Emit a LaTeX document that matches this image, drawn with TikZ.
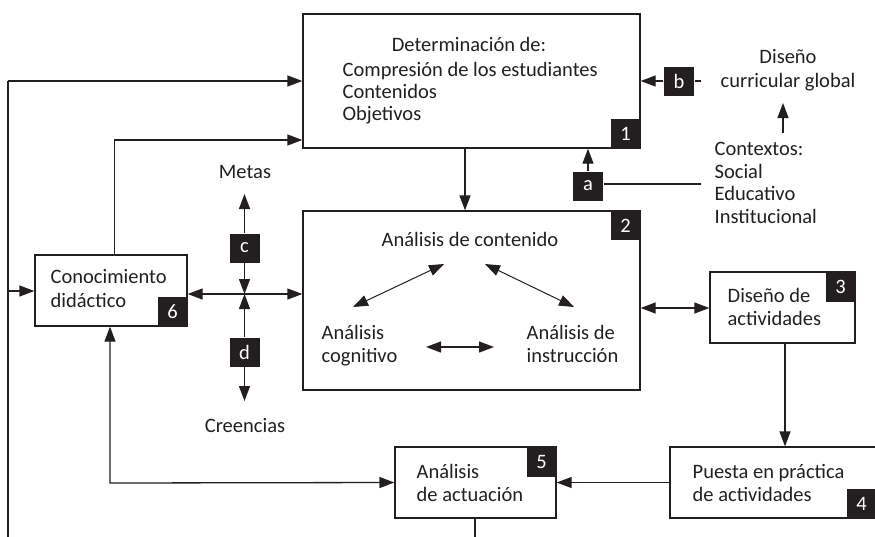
\documentclass[tikz,border=0pt]{standalone}
\usepackage{fontspec}
\setmainfont{Carlito}
\usetikzlibrary{arrows.meta}
\begin{document}
\begin{tikzpicture}[x=1pt,y=-1pt,
  line width=1.3pt, draw={rgb,255:red,35;green,31;blue,32},
  tip/.style={-{Triangle[length=15pt,width=11pt]}},
  dtip/.style={{Triangle[length=15pt,width=11pt]}-{Triangle[length=15pt,width=11pt]}},
  box/.style={draw, rectangle, inner sep=0pt},
  tag/.style={fill={rgb,255:red,35;green,31;blue,32}, text=white, minimum width=29pt, minimum height=29pt, inner sep=0pt, font=\fontsize{20.5}{20.5}\selectfont},
  txt/.style={inner sep=0pt, anchor=base west, text={rgb,255:red,35;green,31;blue,32}, font=\fontsize{20.5}{23}\selectfont},
  ctxt/.style={inner sep=0pt, anchor=base, text={rgb,255:red,35;green,31;blue,32}, font=\fontsize{20.5}{23}\selectfont}]
\useasboundingbox (0,0) rectangle (875,536);
% boxes
\node[box, minimum width=337pt, minimum height=134pt] (b1) at (471.5,81) {};
\node[box, minimum width=337pt, minimum height=179pt] (b2) at (471.5,300.5) {};
\node[box, minimum width=152pt, minimum height=71pt] (b6) at (111,290.5) {};
\node[box, minimum width=145pt, minimum height=71pt] (b3) at (782.5,307.5) {};
\node[box, minimum width=207pt, minimum height=71pt] (b4) at (773.5,482.5) {};
\node[box, minimum width=161pt, minimum height=71pt] (b5) at (475.5,482.5) {};
% texts
\node[ctxt] (t1a) at (469,51) {Determinación de:};
\node[txt] (t1b) at (342,76) {Compresión de los estudiantes};
\node[txt] (t1c) at (342,98) {Contenidos};
\node[txt] (t1d) at (342,120) {Objetivos};
\node[ctxt] (t2a) at (470,246) {Análisis de contenido};
\node[txt] (t2b1) at (321,339) {Análisis};
\node[txt] (t2b2) at (321,362) {cognitivo};
\node[txt] (t2c1) at (526,339) {Análisis de};
\node[txt] (t2c2) at (526,362) {instrucción};
\node[txt] (t6a) at (50,283) {Conocimiento};
\node[txt] (t6b) at (50,307) {didáctico};
\node[txt] (t3a) at (727,302) {Diseño de};
\node[txt] (t3b) at (727,325) {actividades};
\node[txt] (t4a) at (692,478) {Puesta en práctica};
\node[txt] (t4b) at (692,501) {de actividades};
\node[txt] (t5a) at (416,478) {Análisis};
\node[txt] (t5b) at (416,501) {de actuación};
\node[ctxt] (dis1) at (788,63) {Diseño};
\node[ctxt] (dis2) at (788,87) {curricular global};
\node[txt] (ctx1) at (714,155) {Contextos:};
\node[txt] (ctx2) at (714,178) {Social};
\node[txt] (ctx3) at (714,200) {Educativo};
\node[txt] (ctx4) at (714,223) {Institucional};
\node[ctxt] (metas) at (245,178) {Metas};
\node[ctxt] (cree) at (245,432) {Creencias};
% tags
\node[tag] (n1) at (625.5,133.5) {1};
\node[tag] (n2) at (625.5,225.5) {2};
\node[tag] (n3) at (840.5,287) {3};
\node[tag] (n4) at (861.5,503.5) {4};
\node[tag] (n5) at (541.5,462) {5};
\node[tag] (n6) at (172.5,311.5) {6};
\node[tag, minimum width=30pt] (na) at (588,186) {a};
\node[tag, minimum width=30pt] (nb) at (679,81) {b};
\node[tag, minimum width=30pt] (nc) at (244.5,248) {c};
\node[tag, minimum width=30pt] (nd) at (244.5,352) {d};
% coordinates
\coordinate (cross) at (244.5,294);
\coordinate (mtop) at (244.5,194);
\coordinate (cbot) at (244.5,401);
\coordinate (bend) at (701,81);
\coordinate (aend) at (701,184);
\coordinate (ctop) at (783,133);
\coordinate (ctip) at (783,103);
\coordinate (left) at (8,81);
\coordinate (leftb) at (8,540);
\coordinate (l6) at (8,291);
\coordinate (up6) at (114.5,140);
\coordinate (c65) at (110,483);
\coordinate (b5d) at (475,540);
\coordinate (ia1) at (353,307);
\coordinate (ia2) at (444,264);
\coordinate (ib1) at (485,264);
\coordinate (ib2) at (574,307);
\coordinate (ic1) at (426,347);
\coordinate (ic2) at (494,347);
% connectors
\draw[tip] (b1.south -| 465,0) -- (b2.north -| 465,0);
\draw[tip] (na.north) -- (na.north |- b1.south);
\draw (na.east |- aend) -- (aend);
\draw[tip] (nb.west) -- (nb.west -| b1.east);
\draw (nb.east) -- (bend);
\draw[tip] (ctop) -- (ctip);
\draw[tip] (left) -- (left -| b1.west);
\draw (left) -- (leftb);
\draw[tip] (l6) -- (l6 -| b6.west);
\draw[tip] (b6.north -| up6) -- (up6) -- (up6 -| b1.west);
\draw[tip] (nc.north) -- (mtop);
\draw[tip] (nc.south) -- (cross);
\draw[tip] (nd.north) -- (cross);
\draw[tip] (nd.south) -- (cbot);
\draw[tip] (cross) -- (cross -| b6.east);
\draw[tip] (cross) -- (cross -| b2.west);
\draw[dtip] (b2.east |- 0,308) -- (b3.west |- 0,308);
\draw[tip] (b3.south -| 785,0) -- (b4.north -| 785,0);
\draw[tip] (b4.west) -- (b5.east);
\draw[dtip] (b6.south -| c65) -- (c65) -- (b5.west);
\draw (b5.south -| b5d) -- (b5d);
\draw[dtip, line width=1pt] (ia1) -- (ia2);
\draw[dtip, line width=1pt] (ib1) -- (ib2);
\draw[dtip] (ic1) -- (ic2);
\end{tikzpicture}
\end{document}
